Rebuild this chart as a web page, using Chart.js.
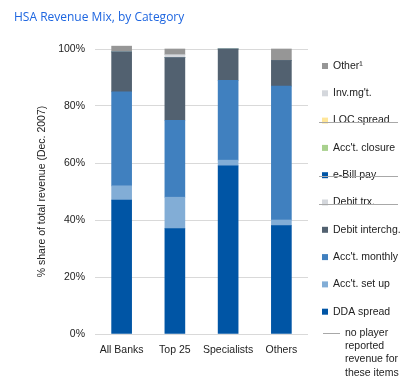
<!DOCTYPE html>
<html>
<head>
<meta charset="utf-8">
<script src="https://cdn.jsdelivr.net/npm/chart.js@4/dist/chart.umd.min.js"></script>
<style>
html,body{margin:0;padding:0;background:#fff;}
#wrap{position:relative;width:413px;height:386px;}
</style>
</head>
<body>
<div id="wrap"><canvas id="c" width="413" height="386"></canvas></div>
<script>
const categories = ["All Banks", "Top 25", "Specialists", "Others"];
const yTicks = [0, 20, 40, 60, 80, 100];

const ddaSpread     = [47, 37, 59, 38];
const acctSetUp     = [5, 11, 2, 2];
const acctMonthly   = [33, 27, 28, 47];
const debitInterchg = [14, 22, 11, 9];
const debitTrx      = [0, 0, 0, 0];
const eBillPay      = [0, 0, 0, 0];
const acctClosure   = [0, 0, 0, 0];
const locSpread     = [0, 0, 0, 0];
const invMgt        = [0, 1, 0, 0];
const other         = [2, 2, 0, 4];

const seriesNames = ["DDA spread", "Acc't. set up", "Acc't. monthly", "Debit interchg.", "Debit trx.", "e-Bill pay", "Acc't. closure", "LOC spread", "Inv.mg't.", "Other\u00B9"];
const seriesColors = ["#0055A5", "#82ADD6", "#4080BF", "#526170", "#D4D7DC", "#0055A5", "#A9D18E", "#FFE699", "#D4D7DC", "#969696"];
const seriesValues = [ddaSpread, acctSetUp, acctMonthly, debitInterchg, debitTrx, eBillPay, acctClosure, locSpread, invMgt, other];
const noRevenue = [false, false, false, false, true, true, false, true, false, false];

const FONT = "'Liberation Sans', Arial, sans-serif";

const overlay = {
  id: 'overlay',
  afterDraw(chart) {
    const ctx = chart.ctx;
    ctx.save();
    // title
    ctx.fillStyle = '#1E66E0';
    ctx.font = "12px 'Open Sans', sans-serif";
    ctx.textBaseline = 'middle';
    ctx.textAlign = 'left';
    ctx.fillText('HSA Revenue Mix, by Category', 14, 18);
    // legend (reverse order)
    ctx.font = "10.5px " + FONT;
    const x0 = 322, tx = 333, y0 = 66, dy = 27.3;
    for (let k = 0; k < seriesNames.length; k++) {
      const i = seriesNames.length - 1 - k;
      const y = y0 + k * dy;
      ctx.fillStyle = seriesColors[i];
      ctx.fillRect(x0, y - 3, 6, 6);
      ctx.fillStyle = '#222';
      ctx.fillText(seriesNames[i], tx, y);
      if (noRevenue[i]) {
        ctx.strokeStyle = '#A8A8A8';
        ctx.lineWidth = 1;
        ctx.beginPath();
        ctx.moveTo(319, Math.round(y) + 1.5);
        ctx.lineTo(398, Math.round(y) + 1.5);
        ctx.stroke();
      }
    }
    // note
    const ny = 333;
    ctx.strokeStyle = '#A8A8A8';
    ctx.lineWidth = 1;
    ctx.beginPath();
    ctx.moveTo(323, ny + 0.5);
    ctx.lineTo(340, ny + 0.5);
    ctx.stroke();
    ctx.fillStyle = '#222';
    const lines = ['no player', 'reported', 'revenue for', 'these items'];
    lines.forEach((l, j) => ctx.fillText(l, 345, ny + j * 13.3));
    ctx.restore();
  }
};

new Chart(document.getElementById('c'), {
  type: 'bar',
  data: {
    labels: categories,
    datasets: seriesValues.map((v, i) => ({
      label: seriesNames[i],
      data: v,
      backgroundColor: seriesColors[i],
      borderWidth: 0,
      barThickness: 20,
      clip: false
    }))
  },
  options: {
    responsive: false,
    animation: false,
    layout: { padding: { top: 49, right: 105, bottom: 0, left: 0 } },
    plugins: { legend: { display: false }, tooltip: { enabled: false }, title: { display: false } },
    scales: {
      x: {
        stacked: true,
        grid: { display: false, drawTicks: false },
        border: { display: false },
        ticks: { padding: 10, color: '#222', maxRotation: 0, minRotation: 0, autoSkip: false, font: { family: FONT, size: 10.5 } },
        afterFit(s) { s.height = 52; }
      },
      y: {
        stacked: true,
        min: 0, max: 100,
        afterBuildTicks(s) { s.ticks = yTicks.map(v => ({ value: v })); },
        grid: { color: '#D9D9D9', drawTicks: false, lineWidth: 1 },
        border: { display: false },
        ticks: { padding: 10, color: '#222', font: { family: FONT, size: 10.5 }, callback: v => v + '%' },
        title: { display: true, text: '% share of total revenue (Dec. 2007)', color: '#222', font: { family: FONT, size: 10.5 }, padding: { top: 36, bottom: 0 } },
        afterFit(s) { s.width = 95; }
      }
    }
  },
  plugins: [overlay]
});
</script>
</body>
</html>
